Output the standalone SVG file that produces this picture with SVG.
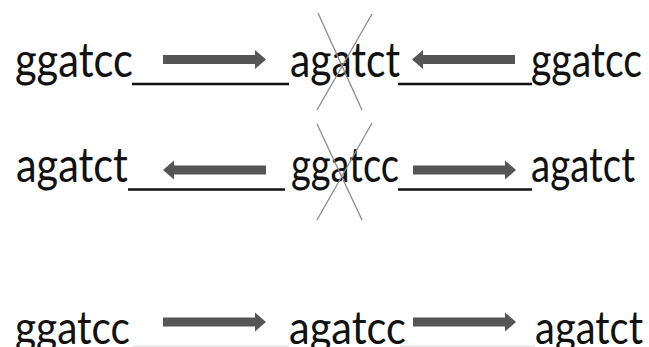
<svg xmlns="http://www.w3.org/2000/svg" xmlns:xlink="http://www.w3.org/1999/xlink" width="649" height="347" viewBox="0 0 649 347">
<style>
.t{font-family:Lato,"Open Sans","Liberation Sans",sans-serif;font-size:42px;fill:#111;}
.ul{stroke:#111;stroke-width:2.5;}
.x{stroke:#8a8a8a;stroke-width:1.3;fill:none;}
.ar{fill:#555;}
</style>
<defs>
<path id="arr" d="M0,-4.5 H92 V-9.5 L103,0 L92,9.5 V4.5 H0 Z"/>
</defs>
<rect width="649" height="347" fill="#fff"/>
<g id="row1">
<g id="n1a" transform="translate(15,77) scale(1,1.14)"><text class="t" textLength="118" lengthAdjust="spacingAndGlyphs">ggatcc</text></g>
<g id="n1b" transform="translate(290,77) scale(1,1.14)"><text class="t" textLength="110" lengthAdjust="spacingAndGlyphs">agatct</text></g>
<g id="n1c" transform="translate(531,77) scale(1,1.14)"><text class="t" textLength="111" lengthAdjust="spacingAndGlyphs">ggatcc</text></g>
</g>
<g id="row2">
<g id="n2a" transform="translate(16,182) scale(1,1.14)"><text class="t" textLength="112" lengthAdjust="spacingAndGlyphs">agatct</text></g>
<g id="n2b" transform="translate(291,182) scale(1,1.14)"><text class="t" textLength="108" lengthAdjust="spacingAndGlyphs">ggatcc</text></g>
<g id="n2c" transform="translate(531,182) scale(1,1.14)"><text class="t" textLength="104" lengthAdjust="spacingAndGlyphs">agatct</text></g>
</g>
<g id="row3">
<g id="n3a" transform="translate(15,344) scale(1,1.1)"><text class="t" textLength="115" lengthAdjust="spacingAndGlyphs">ggatcc</text></g>
<g id="n3b" transform="translate(289,344) scale(1,1.1)"><text class="t" textLength="117" lengthAdjust="spacingAndGlyphs">agatcc</text></g>
<g id="n3c" transform="translate(535,344) scale(1,1.1)"><text class="t" textLength="108" lengthAdjust="spacingAndGlyphs">agatct</text></g>
</g>
<g id="crosses">
<path class="x" d="M318,13 L362,110 M372,14 L317,110"/>
<path class="x" d="M317,124 L362,220 M372,123 L317,220"/>
</g>
<g id="connectors">
<line class="ul" x1="132" y1="84" x2="289" y2="84"/>
<line class="ul" x1="398" y1="84" x2="532" y2="84"/>
<line class="ul" x1="128" y1="189.5" x2="285" y2="189.5"/>
<line class="ul" x1="398" y1="189.5" x2="532" y2="189.5"/>
<line x1="133" y1="346" x2="289" y2="346" stroke="#d8d8d8" stroke-width="1"/>
<line x1="400" y1="346" x2="535" y2="346" stroke="#d8d8d8" stroke-width="1"/>
<use class="ar" xlink:href="#arr" transform="translate(163,59.5)"/>
<use class="ar" xlink:href="#arr" transform="translate(515,59.5) scale(-1,1)"/>
<use class="ar" xlink:href="#arr" transform="translate(266,170) scale(-1,1)"/>
<use class="ar" xlink:href="#arr" transform="translate(413,170)"/>
<use class="ar" xlink:href="#arr" transform="translate(163,322)"/>
<use class="ar" xlink:href="#arr" transform="translate(413,322)"/>
</g>
</svg>
